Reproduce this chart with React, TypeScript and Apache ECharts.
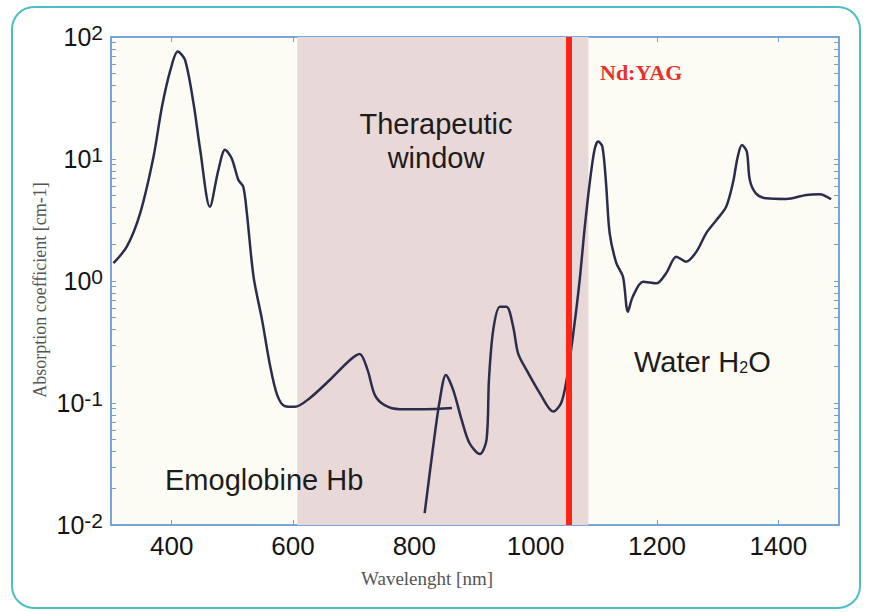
import React, { useEffect, useRef } from 'react';
import * as echarts from 'echarts';

// Axis ticks
const xTicks = [400, 600, 800, 1000, 1200, 1400];
const yMajorTicks = [0.01, 0.1, 1, 10, 100];
const yMinorTicks = [
  0.02, 0.03, 0.04, 0.05, 0.06, 0.07, 0.08, 0.09,
  0.2, 0.3, 0.4, 0.5, 0.6, 0.7, 0.8, 0.9,
  2, 3, 4, 5, 6, 7, 8, 9,
  20, 30, 40, 50, 60, 70, 80, 90,
];

// Haemoglobin absorption curve
const hbWavelength = [
  304, 326, 348, 370, 384, 398, 410, 422, 436, 447, 463, 477, 488, 499, 510, 518,
  524, 535, 549, 562, 574, 587, 603, 628, 661, 694, 710, 723, 735, 751, 776, 817, 862,
];
const hbAbsorption = [
  1.4, 1.91, 3.59, 10.4, 26.8, 53.7, 76, 64.8, 28.6, 11.9, 4.06, 8.13, 11.9, 10.1, 6.73, 5.93,
  3.59, 1.08, 0.48, 0.205, 0.116, 0.094, 0.093, 0.11, 0.155, 0.225, 0.252, 0.186, 0.116, 0.096, 0.089, 0.089, 0.091,
];

// Water absorption curve
const waterWavelength = [
  817, 831, 842, 852, 864, 878, 891, 908, 919, 923, 930, 941, 952, 963, 971, 985,
  1007, 1029, 1042, 1051, 1061, 1072, 1081, 1089, 1097, 1103, 1110, 1116, 1122, 1133, 1144, 1152,
  1160, 1177, 1199, 1215, 1232, 1248, 1265, 1281, 1298, 1314, 1325, 1333, 1340, 1348, 1353, 1363,
  1380, 1413, 1446, 1468, 1487,
];
const waterAbsorption = [
  0.0125, 0.0438, 0.106, 0.17, 0.128, 0.0726, 0.0468, 0.0382, 0.0498, 0.155, 0.396, 0.615, 0.615, 0.42, 0.255, 0.186,
  0.12, 0.085, 0.1, 0.155, 0.34, 0.96, 2.79, 6.32, 11.9, 13.9, 12.6, 6.32, 2.46, 1.4, 1.08, 0.56,
  0.743, 0.986, 0.957, 1.16, 1.58, 1.44, 1.74, 2.46, 3.16, 4.06, 6.32, 10.4, 13.0, 11.5, 6.73, 5.23,
  4.76, 4.7, 5.07, 5.14, 4.68,
];

const therapeuticWindow = [607, 1087];
const ndYagWavelength = 1055;

const AXIS_BLUE = '#6f9fd8';
const CURVE = '#2b2d4c';
const SANS = '"Liberation Sans", Arial, sans-serif';
const SERIF = '"Liberation Serif", "Times New Roman", serif';

export default function App() {
  const ref = useRef<HTMLDivElement>(null);

  useEffect(() => {
    document.body.style.margin = '0';
    if (!ref.current) return;
    const chart = echarts.init(ref.current, null, { renderer: 'svg' });

    const allYTicks = [...yMajorTicks, ...yMinorTicks];
    const yLabelFmt = (v: number) => {
      const e = Math.round(Math.log10(v));
      return `{b|10}{e|${e}}`;
    };

    const option: any = {
      animation: false,
      backgroundColor: '#ffffff',
      grid: {
        left: 111,
        right: 30,
        top: 37,
        bottom: 87,
        show: true,
        backgroundColor: '#fdfcf4',
        borderColor: AXIS_BLUE,
        borderWidth: 1.5,
      },
      xAxis: [
        {
          type: 'value',
          min: 300,
          max: 1500,
          position: 'bottom',
          axisLine: { show: true, lineStyle: { color: AXIS_BLUE, width: 1.5 } },
          axisTick: { show: true, inside: true, length: 5, customValues: xTicks, lineStyle: { color: AXIS_BLUE } },
          axisLabel: {
            customValues: xTicks,
            formatter: (v: number) => String(v),
            color: '#141414',
            fontFamily: SANS,
            fontSize: 26,
            margin: 8,
          },
          splitLine: { show: false },
        },
        {
          type: 'value',
          min: 300,
          max: 1500,
          position: 'top',
          axisLine: { show: true, lineStyle: { color: AXIS_BLUE, width: 1.5 } },
          axisTick: { show: true, inside: true, length: 5, customValues: xTicks, lineStyle: { color: AXIS_BLUE } },
          axisLabel: { show: false },
          splitLine: { show: false },
        },
      ],
      yAxis: [
        {
          type: 'log',
          logBase: 10,
          min: 0.01,
          max: 100,
          position: 'left',
          axisLine: { show: true, lineStyle: { color: AXIS_BLUE, width: 1.5 } },
          axisTick: { show: true, inside: true, length: 5, customValues: allYTicks, lineStyle: { color: AXIS_BLUE } },
          axisLabel: {
            customValues: yMajorTicks,
            formatter: yLabelFmt,
            margin: 8,
            rich: {
              b: { fontFamily: SANS, fontSize: 25, color: '#141414' },
              e: { fontFamily: SANS, fontSize: 21, color: '#141414', padding: [0, 0, 9, 0] },
            },
          },
          splitLine: { show: false },
        },
        {
          type: 'log',
          logBase: 10,
          min: 0.01,
          max: 100,
          position: 'right',
          axisLine: { show: true, lineStyle: { color: AXIS_BLUE, width: 1.5 } },
          axisTick: { show: true, inside: true, length: 5, customValues: allYTicks, lineStyle: { color: AXIS_BLUE } },
          axisLabel: { show: false },
          splitLine: { show: false },
        },
      ],
      series: [
        {
          name: 'window',
          type: 'line',
          data: [],
          z: 1,
          silent: true,
          markArea: {
            silent: true,
            itemStyle: { color: '#e9d8d8' },
            data: [[{ xAxis: therapeuticWindow[0] }, { xAxis: therapeuticWindow[1] }]],
          },
        },
        {
          name: 'Hb',
          type: 'line',
          data: hbWavelength.map((w, i) => [w, hbAbsorption[i]]),
          showSymbol: false,
          smooth: 0.3,
          z: 3,
          lineStyle: { color: CURVE, width: 2.5 },
        },
        {
          name: 'H2O',
          type: 'line',
          data: waterWavelength.map((w, i) => [w, waterAbsorption[i]]),
          showSymbol: false,
          smooth: 0.3,
          z: 3,
          lineStyle: { color: CURVE, width: 2.5 },
        },
        {
          name: 'NdYAG',
          type: 'line',
          data: [],
          z: 5,
          silent: true,
          markLine: {
            silent: true,
            symbol: ['none', 'none'],
            label: { show: false },
            lineStyle: { color: '#ff2414', width: 6, type: 'solid' },
            data: [{ xAxis: ndYagWavelength }],
          },
        },
      ],
      graphic: [
        {
          type: 'rect',
          z: 100,
          shape: { x: 12, y: 7, width: 848, height: 601, r: 22 },
          style: { fill: 'none', stroke: '#4fbdc8', lineWidth: 2 },
          silent: true,
        },
        {
          type: 'text',
          x: 436,
          y: 124,
          z: 100,
          style: { text: 'Therapeutic', font: `29px ${SANS}`, fill: '#1c1c1c', align: 'center', verticalAlign: 'middle' },
        },
        {
          type: 'text',
          x: 436,
          y: 158,
          z: 100,
          style: { text: 'window', font: `29px ${SANS}`, fill: '#1c1c1c', align: 'center', verticalAlign: 'middle' },
        },
        {
          type: 'text',
          x: 600,
          y: 72,
          z: 100,
          style: { text: 'Nd:YAG', font: `bold 22px ${SERIF}`, fill: '#e8302c', align: 'left', verticalAlign: 'middle' },
        },
        {
          type: 'text',
          x: 634,
          y: 362,
          z: 100,
          style: {
            text: '{a|Water H}{s|2}{a|O}',
            align: 'left',
            verticalAlign: 'middle',
            rich: {
              a: { fontFamily: SANS, fontSize: 29, fill: '#1c1c1c', color: '#1c1c1c' },
              s: { fontFamily: SANS, fontSize: 16, fill: '#1c1c1c', color: '#1c1c1c', padding: [11, 0, 0, 0] },
            },
          },
        },
        {
          type: 'text',
          x: 165,
          y: 480,
          z: 100,
          style: { text: 'Emoglobine Hb', font: `29px ${SANS}`, fill: '#1c1c1c', align: 'left', verticalAlign: 'middle' },
        },
        {
          type: 'text',
          x: 427,
          y: 578,
          z: 100,
          style: { text: 'Wavelenght [nm]', font: `19px ${SERIF}`, fill: '#555555', align: 'center', verticalAlign: 'middle' },
        },
        {
          type: 'text',
          x: 40,
          y: 290,
          rotation: Math.PI / 2,
          z: 100,
          style: { text: 'Absorption coefficient [cm-1]', font: `18px ${SERIF}`, fill: '#555555', align: 'center', verticalAlign: 'middle' },
        },
      ],
    };

    chart.setOption(option);
    return () => chart.dispose();
  }, []);

  return <div ref={ref} style={{ width: 869, height: 612 }} />;
}
